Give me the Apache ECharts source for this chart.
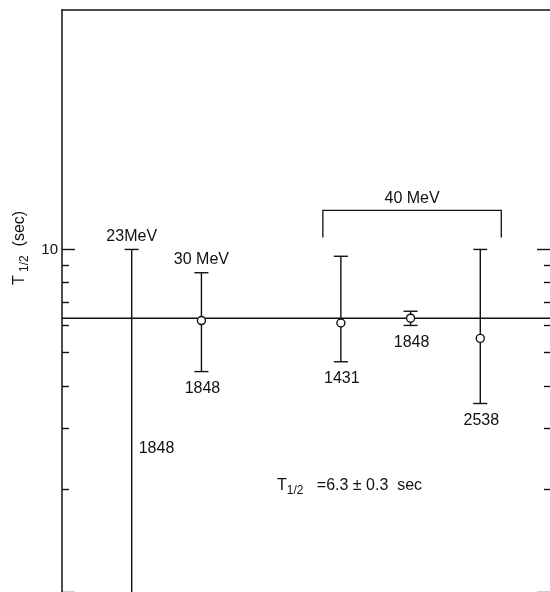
<!DOCTYPE html>
<html>
<head>
<meta charset="utf-8">
<script src="https://cdn.jsdelivr.net/npm/echarts@6/dist/echarts.min.js"></script>
<style>
  html, body { margin: 0; padding: 0; background: #fff; }
  #chart { width: 550px; height: 592px; }
</style>
</head>
<body>
<div id="chart"></div>
<script>
// measurement positions along the (unlabelled) horizontal axis
const xPos = [1, 2, 4, 5, 6];
// half-life values, error bar bounds (sec); null = no marker / bar runs off scale
const tHalf = [null, 6.2, 6.1, 6.3, 5.5];
const errHigh = [10, 8.55, 9.55, 6.6, 10];
const errLow = [null, 4.4, 4.7, 6.0, 3.55];
const energyLabels = ['23MeV', '30 MeV', '', '', ''];
const countLabels = ['1848', '1848', '1431', '1848', '2538'];
const groupLabel = '40 MeV';
const groupIdx = [2, 3, 4];
const meanT = 6.3;
const majorTicks = [1, 10];
const minorTicks = [2, 3, 4, 5, 6, 7, 8, 9];
const yLabels = [10];

const ink = '#111';
const font = 'Liberation Sans';

const chart = echarts.init(document.getElementById('chart'));

function renderBar(params, api) {
  const i = params.dataIndex;
  const cs = params.coordSys;
  const bottom = cs.y + cs.height;
  const top = api.coord([xPos[i], errHigh[i]]);
  const px = top[0];
  const yLow = errLow[i] == null ? bottom : api.coord([xPos[i], errLow[i]])[1];
  const meanY = api.coord([xPos[i], meanT])[1];
  const line = { stroke: ink, lineWidth: 1.4 };
  const kids = [
    { type: 'line', shape: { x1: px, y1: top[1], x2: px, y2: yLow }, style: line },
    { type: 'line', shape: { x1: px - 7, y1: top[1], x2: px + 7, y2: top[1] }, style: line }
  ];
  if (errLow[i] != null) {
    kids.push({ type: 'line', shape: { x1: px - 7, y1: yLow, x2: px + 7, y2: yLow }, style: line });
  }
  if (tHalf[i] != null) {
    const c = api.coord([xPos[i], tHalf[i]]);
    kids.push({ type: 'circle', shape: { cx: c[0], cy: c[1], r: 4 }, style: { fill: '#fff', stroke: ink, lineWidth: 1.4 } });
  }
  if (energyLabels[i]) {
    kids.push({ type: 'text', x: px, y: top[1] - 13, style: { text: energyLabels[i], align: 'center', verticalAlign: 'middle', fill: ink, font: '16px ' + font } });
  }
  if (errLow[i] != null) {
    kids.push({ type: 'text', x: px + 1, y: yLow + 17, style: { text: countLabels[i], align: 'center', verticalAlign: 'middle', fill: ink, font: '16px ' + font } });
  } else {
    kids.push({ type: 'text', x: px + 7, y: (meanY + bottom) / 2 - 6, style: { text: countLabels[i], align: 'left', verticalAlign: 'middle', fill: ink, font: '16px ' + font } });
  }
  return { type: 'group', children: kids };
}

function renderBracket(params, api) {
  const first = api.coord([xPos[groupIdx[0]], 10]);
  const last = api.coord([xPos[groupIdx[groupIdx.length - 1]], 10]);
  const l = first[0] - 18;
  const r = last[0] + 21;
  const t = first[1] - 39;
  const b = t + 27;
  return {
    type: 'group',
    children: [
      { type: 'polyline', shape: { points: [[l, b], [l, t], [r, t], [r, b]] }, style: { stroke: ink, lineWidth: 1.3, fill: null } },
      { type: 'text', x: (l + r) / 2, y: t - 12, style: { text: groupLabel, align: 'center', verticalAlign: 'middle', fill: ink, font: '16px ' + font } }
    ]
  };
}

function yAxisDef(pos, ticks, len, showLine, labels) {
  return {
    type: 'log',
    logBase: 10,
    min: 1,
    max: 50,
    position: pos,
    axisLine: { show: showLine, lineStyle: { color: ink, width: 1.5 } },
    axisTick: { show: true, inside: true, length: len, customValues: ticks, lineStyle: { color: ink, width: 1.4 } },
    axisLabel: labels ? { show: true, customValues: labels, color: ink, fontSize: 15, fontFamily: font, margin: 4 } : { show: false },
    splitLine: { show: false },
    minorTick: { show: false }
  };
}

const sub = {
  t: { fontSize: 16, fontFamily: font, lineHeight: 22, verticalAlign: 'middle', fill: ink },
  s: { fontSize: 12, fontFamily: font, lineHeight: 12, verticalAlign: 'bottom', fill: ink }
};

const option = {
  backgroundColor: '#fff',
  animation: false,
  grid: { left: 62, right: -2, top: 10, bottom: 0 },
  xAxis: {
    type: 'value',
    min: 0,
    max: 7,
    position: 'top',
    axisLine: { show: true, onZero: false, lineStyle: { color: ink, width: 1.5 } },
    axisTick: { show: false },
    axisLabel: { show: false },
    splitLine: { show: false }
  },
  yAxis: [
    yAxisDef('left', majorTicks, 13, true, yLabels),
    yAxisDef('left', minorTicks, 7, false, null),
    yAxisDef('right', majorTicks, 13, false, null),
    yAxisDef('right', minorTicks, 6, false, null)
  ],
  graphic: [
    {
      type: 'text', x: 20, y: 248, rotation: Math.PI / 2,
      style: { text: '{t|T}{s| 1/2}{t|  (sec)}', align: 'center', verticalAlign: 'middle', fill: ink, rich: sub }
    },
    {
      type: 'text', x: 277, y: 486,
      style: { text: '{t|T}{s|1/2}{t|   =6.3 ± 0.3  sec}', align: 'left', verticalAlign: 'middle', fill: ink, rich: sub }
    }
  ],
  series: [
    {
      type: 'line',
      data: [[0, meanT], [7, meanT]],
      symbol: 'none',
      lineStyle: { color: ink, width: 1.5 },
      silent: true
    },
    {
      type: 'custom',
      renderItem: renderBar,
      data: xPos.map((x, i) => [x, errHigh[i]]),
      z: 5
    },
    {
      type: 'custom',
      renderItem: renderBracket,
      data: [[xPos[groupIdx[0]], 10]],
      z: 5
    }
  ]
};

chart.setOption(option);
</script>
</body>
</html>
